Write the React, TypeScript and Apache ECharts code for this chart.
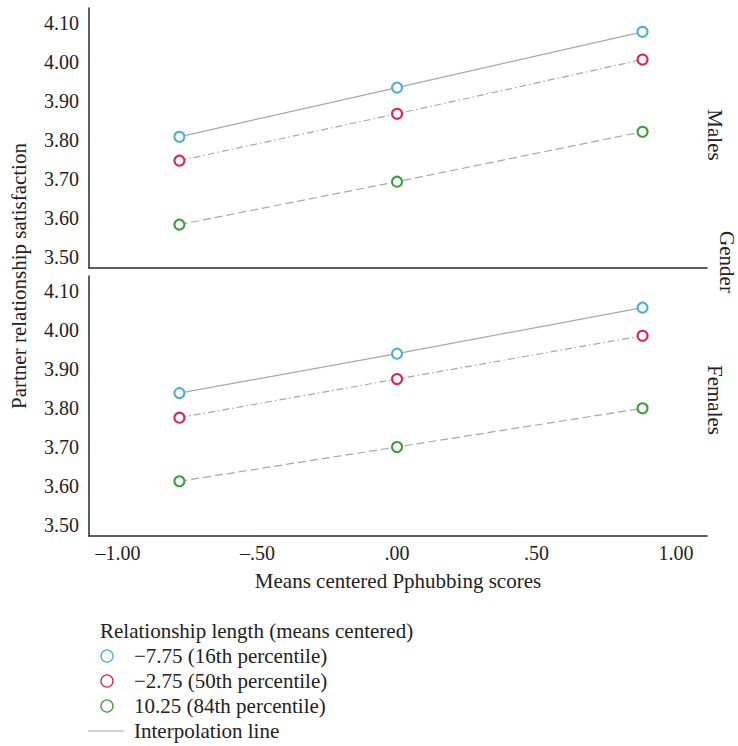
import React, { useEffect, useRef } from "react";
import * as echarts from "echarts";

const xValues = [-0.78, 0, 0.88];
const groupNames = ["−7.75 (16th percentile)", "−2.75 (50th percentile)", "10.25 (84th percentile)"];
const groupColors = ["#4aaed3", "#e2204f", "#3c9a3c"];
const malesValues = [
  [3.808, 3.934, 4.077],
  [3.747, 3.867, 4.006],
  [3.583, 3.693, 3.821],
];
const femalesValues = [
  [3.838, 3.939, 4.057],
  [3.775, 3.874, 3.985],
  [3.612, 3.700, 3.799],
];
const yTicks = [3.5, 3.6, 3.7, 3.8, 3.9, 4.0, 4.1];
const xTicks = [-1, -0.5, 0, 0.5, 1];
const panelNames = ["Males", "Females"];

const FONT = "Liberation Serif";
const TICK_SIZE = 20;
const TEXT_SIZE = 21;
const lineTypes: any[] = ["solid", [7, 3, 1.5, 3], [8, 4]];

function fmtX(v: number) {
  const s = Math.abs(v).toFixed(2);
  const t = Math.abs(v) < 1 ? s.replace(/^0/, "") : s;
  return (v < 0 ? "–" : "") + t;
}

export default function App() {
  const ref = useRef<HTMLDivElement>(null);
  useEffect(() => {
    const chart = echarts.init(ref.current!, null, { renderer: "svg" });
    const yMin = 3.4718;
    const yMax = 4.138;
    const xMin = -1.104;
    const xMax = 1.111;
    const axisLine = { show: true, onZero: false, lineStyle: { color: "#2a2a2a", width: 1.5 } };
    const grids = [
      { left: 89, top: 8, width: 618, height: 260 },
      { left: 89, top: 276, width: 618, height: 260 },
    ];
    const xAxes = [0, 1].map((i) => ({
      type: "value",
      gridIndex: i,
      min: xMin,
      max: xMax,
      axisLine,
      axisTick: { show: false },
      splitLine: { show: false },
      axisLabel: i === 1
        ? {
            show: true,
            customValues: xTicks,
            formatter: (v: number) => fmtX(v),
            color: "#222",
            fontFamily: FONT,
            fontSize: TICK_SIZE,
            margin: 7,
          }
        : { show: false },
      name: i === 1 ? "Means centered Pphubbing scores" : "",
      nameLocation: "middle",
      nameGap: 34,
      nameTextStyle: { fontFamily: FONT, fontSize: TEXT_SIZE, color: "#222" },
    }));
    const yAxes = [0, 1].map((i) => ({
      type: "value",
      gridIndex: i,
      min: yMin,
      max: yMax,
      axisLine,
      axisTick: { show: false },
      splitLine: { show: false },
      axisLabel: {
        customValues: yTicks,
        formatter: (v: number) => v.toFixed(2),
        color: "#222",
        fontFamily: FONT,
        fontSize: TICK_SIZE,
        margin: 10,
      },
    }));
    const series: any[] = [];
    [malesValues, femalesValues].forEach((panel, pi) => {
      panel.forEach((vals, gi) => {
        series.push({
          type: "line",
          name: groupNames[gi],
          xAxisIndex: pi,
          yAxisIndex: pi,
          data: xValues.map((x, k) => [x, vals[k]]),
          symbol: "emptyCircle",
          symbolSize: 10,
          showSymbol: true,
          lineStyle: { color: "#a8a8a8", width: 1.2, type: lineTypes[gi] },
          itemStyle: { color: groupColors[gi], borderColor: groupColors[gi], borderWidth: 1.2 },
          z: 3,
        });
      });
    });
    const txt = (text: string, x: number, y: number, rotation: number, align = "center") => ({
      type: "text",
      x,
      y,
      rotation,
      style: { text, fontFamily: FONT, fontSize: TEXT_SIZE, fill: "#222", align, verticalAlign: "middle" },
    });
    const graphic: any[] = [
      txt("Partner relationship satisfaction", 19, 276, Math.PI / 2),
      txt(panelNames[0], 715, 135, -Math.PI / 2),
      txt(panelNames[1], 715, 400, -Math.PI / 2),
      txt("Gender", 727, 262, -Math.PI / 2),
      txt("Relationship length (means centered)", 100, 631, 0, "left"),
    ];
    groupNames.forEach((g, i) => {
      const y = 656 + i * 25;
      graphic.push({
        type: "circle",
        shape: { cx: 107, cy: y, r: 6 },
        style: { fill: "#fff", stroke: groupColors[i], lineWidth: 1.3 },
      });
      graphic.push(txt(g, 134, y, 0, "left"));
    });
    graphic.push({
      type: "line",
      shape: { x1: 88, y1: 731, x2: 124, y2: 731 },
      style: { stroke: "#a8a8a8", lineWidth: 1.2 },
    });
    graphic.push(txt("Interpolation line", 134, 731, 0, "left"));

    chart.setOption({
      animation: false,
      backgroundColor: "#fff",
      textStyle: { fontFamily: FONT },
      grid: grids,
      xAxis: xAxes,
      yAxis: yAxes,
      series,
      graphic,
    });
    return () => chart.dispose();
  }, []);
  return (
    <div
      ref={ref}
      style={{ position: "fixed", left: 0, top: 0, width: 738, height: 746 }}
    />
  );
}
